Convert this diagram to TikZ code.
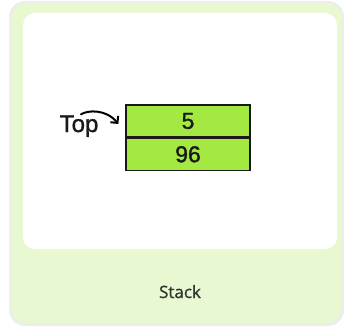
\documentclass[tikz,border=0pt]{standalone}
\usepackage{fontspec}
\setmainfont{Liberation Sans}[FakeBold=1.2]
\newfontfamily\capfont{Open Sans}[FakeBold=1.0]
\usetikzlibrary{arrows.meta,positioning}
\definecolor{cardCol}{RGB}{232,248,208}
\definecolor{cellCol}{RGB}{164,232,66}
\definecolor{shadowCol}{RGB}{236,238,236}
\definecolor{inkCol}{RGB}{25,25,25}
\tikzset{
  cell/.style={draw=inkCol,line width=1.3pt,fill=cellCol,minimum width=124pt,minimum height=32pt,
               inner sep=0pt,font=\fontsize{23}{25}\selectfont,text=inkCol},
  ptr/.style={-{Straight Barb[length=5pt,width=10pt]},line width=2pt,line cap=round},
  lab/.style={font=\fontsize{24}{26}\selectfont,text=inkCol,inner sep=0pt},
  captxt/.style={font=\capfont\fontsize{17}{19}\selectfont,text=black!80,inner sep=0pt},
}
\begin{document}
\begin{tikzpicture}[x=1pt,y=-1pt]
  \useasboundingbox (0,0) rectangle (344,326);
  \fill[white] (0,0) rectangle (344,326);
  % card
  \fill[shadowCol,rounded corners=16pt] (9,1) rectangle (344,326);
  \fill[cardCol,rounded corners=14pt] (12,3) rectangle (341,323);
  \fill[white,rounded corners=12pt] (23,13) rectangle (337,249);
  % stack cells
  \node[cell] (c5) at (188,121) {5};
  \node[cell,below=0pt of c5] (c96) {96};
  \node[lab,anchor=base] (toplbl) at (79,132) {Top};
  \draw[ptr] ([xshift=2pt,yshift=1pt]toplbl.north) .. controls (88,110) and (106,109) .. ([xshift=-7pt,yshift=-3pt]c5.west);
  \node[captxt,anchor=base] (caption) at (180,298) {Stack};
\end{tikzpicture}
\end{document}
